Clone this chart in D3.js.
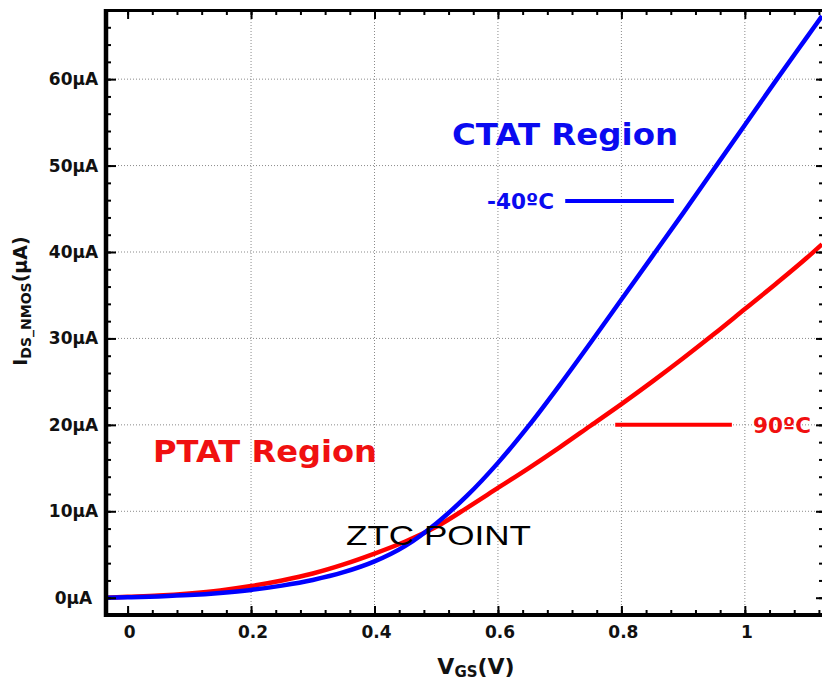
<!DOCTYPE html>
<html>
<head>
<meta charset="utf-8">
<script src="https://cdn.jsdelivr.net/npm/d3@7"></script>
<style>
  body { margin: 0; background: #fff; }
  svg { display: block; }
  .tick text { font-family: "DejaVu Sans", sans-serif; font-weight: bold; fill: #111; }
</style>
</head>
<body>
<svg id="chart"></svg>
<script>
// V_GS sweep (V) and drain current (uA) for the two temperatures
var vgs = [-0.035, 0, 0.05, 0.1, 0.15, 0.2, 0.25, 0.3, 0.35, 0.4, 0.45, 0.5, 0.55,
           0.6, 0.65, 0.7, 0.75, 0.8, 0.85, 0.9, 0.95, 1.0, 1.05, 1.1, 1.125];
var idsCold = [0.0, 0.05, 0.15, 0.3, 0.55, 0.9, 1.4, 2.05, 2.95, 4.2, 6.0, 8.6, 11.8,
               15.6, 19.9, 24.6, 29.5, 34.5, 39.5, 44.5, 49.6, 54.7, 59.8, 64.8, 67.3];
var idsHot = [0.0, 0.1, 0.25, 0.5, 0.85, 1.35, 2.0, 2.8, 3.85, 5.1, 6.5, 8.2, 10.4,
              12.7, 15.0, 17.4, 19.9, 22.4, 25.0, 27.7, 30.5, 33.4, 36.3, 39.3, 40.9];

var xTicks = [0, 0.2, 0.4, 0.6, 0.8, 1];
var xTickLabels = ["0", "0.2", "0.4", "0.6", "0.8", "1"];
var yTicks = [0, 10, 20, 30, 40, 50, 60];
var yTickLabels = ["0µA", "10µA", "20µA", "30µA", "40µA", "50µA", "60µA"];

function init(){

    var width = 822,
        height = 681;

    var svg = d3.select('svg#chart')
      .attr('width', width)
      .attr('height', height);

    var x = d3.scaleLinear()
      .domain([-0.035, 1.125])
      .range([106, 822]);

    var y = d3.scaleLinear()
      .domain([-2, 68])
      .range([615, 10]);

    var xMinor = d3.range(-0.04, 1.13, 0.04).filter(function(d){ return d > -0.035; });
    var yMinor = d3.range(0, 68, 2);

    // grid
    var grid = svg.append('g')
      .attr('stroke', '#8a8a8a')
      .attr('stroke-width', 1)
      .attr('stroke-dasharray', '1,2');

    grid.selectAll('line.gx')
        .data(xTicks.filter(function(d){ return d > 0; }))
      .enter().append('line')
        .attr('class', 'gx')
        .attr('x1', function(d){ return x(d); })
        .attr('x2', function(d){ return x(d); })
        .attr('y1', y(68))
        .attr('y2', y(-2));

    grid.selectAll('line.gy')
        .data(yTicks.filter(function(d){ return d > 0; }))
      .enter().append('line')
        .attr('class', 'gy')
        .attr('x1', x(-0.035))
        .attr('x2', x(1.125))
        .attr('y1', function(d){ return y(d); })
        .attr('y2', function(d){ return y(d); });

    // curves
    svg.append('clipPath')
        .attr('id', 'clip')
      .append('rect')
        .attr('x', 106)
        .attr('y', 10)
        .attr('width', 716)
        .attr('height', 605);

    var line = d3.line()
      .x(function(d){ return x(d[0]); })
      .y(function(d){ return y(d[1]); })
      .curve(d3.curveMonotoneX);

    var curves = svg.append('g').attr('clip-path', 'url(#clip)');

    curves.append('path')
      .datum(d3.zip(vgs, idsHot))
      .attr('d', line)
      .attr('fill', 'none')
      .attr('stroke', '#ff0000')
      .attr('stroke-width', 4.5);

    curves.append('path')
      .datum(d3.zip(vgs, idsCold))
      .attr('d', line)
      .attr('fill', 'none')
      .attr('stroke', '#0000ff')
      .attr('stroke-width', 4.5);

    // axes with inward ticks
    function tickAxis(axis, values, size, transform){
        var g = svg.append('g')
          .attr('transform', transform)
          .call(axis.tickValues(values).tickSize(size).tickFormat(''));
        g.select('.domain').remove();
        g.selectAll('.tick line').attr('stroke', '#000').attr('stroke-width', 2);
        return g;
    }

    // bottom (ticks up)
    tickAxis(d3.axisTop(x), xMinor, 5, 'translate(0,615)');
    tickAxis(d3.axisTop(x), xTicks, 9, 'translate(0,615)');
    // top (ticks down)
    tickAxis(d3.axisBottom(x), xMinor, 5, 'translate(0,10)');
    tickAxis(d3.axisBottom(x), xTicks, 9, 'translate(0,10)');
    // left (ticks right)
    tickAxis(d3.axisRight(y), yMinor, 5, 'translate(106,0)');
    tickAxis(d3.axisRight(y), yTicks, 10, 'translate(106,0)');
    // right (ticks left)
    tickAxis(d3.axisLeft(y), yMinor, 3, 'translate(822,0)');
    tickAxis(d3.axisLeft(y), yTicks, 6, 'translate(822,0)');

    // frame
    svg.append('line')
      .attr('x1', 104).attr('x2', 822)
      .attr('y1', 10.5).attr('y2', 10.5)
      .attr('stroke', '#000').attr('stroke-width', 3);
    svg.append('line')
      .attr('x1', 104).attr('x2', 822)
      .attr('y1', 615).attr('y2', 615)
      .attr('stroke', '#000').attr('stroke-width', 4);
    svg.append('line')
      .attr('x1', 106).attr('x2', 106)
      .attr('y1', 9).attr('y2', 617)
      .attr('stroke', '#000').attr('stroke-width', 4.5);

    // tick labels
    var xLab = svg.append('g')
      .attr('transform', 'translate(0,615)')
      .call(d3.axisBottom(x).tickValues(xTicks).tickSize(0).tickPadding(11)
        .tickFormat(function(d, i){ return xTickLabels[i]; }));
    xLab.select('.domain').remove();
    xLab.selectAll('text').attr('font-size', 17).attr('dx', 1.5);

    var yLab = svg.append('g')
      .attr('transform', 'translate(106,0)')
      .call(d3.axisLeft(y).tickValues(yTicks).tickSize(0)
        .tickFormat(function(d, i){ return yTickLabels[i]; }));
    yLab.select('.domain').remove();
    yLab.selectAll('text')
      .attr('font-size', 17)
      .attr('x', -32.5)
      .attr('text-anchor', 'middle');

    // axis titles
    var xt = svg.append('text')
      .attr('x', 476)
      .attr('y', 674)
      .attr('text-anchor', 'middle')
      .style('font-family', '"DejaVu Sans", sans-serif')
      .style('font-weight', 'bold')
      .style('font-size', '22px')
      .attr('fill', '#111');
    xt.append('tspan').text('V');
    xt.append('tspan').attr('dy', 3).style('font-size', '15px').text('GS');
    xt.append('tspan').attr('dy', -3).text('(V)');

    var yt = svg.append('text')
      .attr('transform', 'translate(27,301) rotate(-90)')
      .attr('text-anchor', 'middle')
      .style('font-family', '"DejaVu Sans", sans-serif')
      .style('font-weight', 'bold')
      .style('font-size', '19px')
      .attr('fill', '#111');
    yt.append('tspan').text('I');
    yt.append('tspan').attr('dy', 4).style('font-size', '14px').text('DS_NMOS');
    yt.append('tspan').attr('dy', -4).text('(µA)');

    // annotations
    function label(txt, px, py, size, color, len, bold, family){
        return svg.append('text')
          .attr('x', px)
          .attr('y', py)
          .attr('textLength', len)
          .attr('lengthAdjust', 'spacingAndGlyphs')
          .style('font-family', family || '"DejaVu Sans", sans-serif')
          .style('font-weight', bold ? 'bold' : 'normal')
          .style('font-size', size + 'px')
          .attr('fill', color)
          .text(txt);
    }

    label('CTAT Region', 452, 145, 30, '#0a0af0', 226, true);
    label('PTAT Region', 153, 462, 30, '#f01010', 224, true);
    label('-40ºC', 487, 209, 21, '#0a0af0', 67, true);
    label('90ºC', 753, 433, 21, '#f01010', 58, true);
    label('ZTC POINT', 346, 545, 28, '#000', 185, false, '"Liberation Sans", Arial, sans-serif');

    svg.append('line')
      .attr('x1', x(0.709)).attr('x2', x(0.885))
      .attr('y1', y(45.9)).attr('y2', y(45.9))
      .attr('stroke', '#0000ff').attr('stroke-width', 4);
    svg.append('line')
      .attr('x1', x(0.79)).attr('x2', x(0.979))
      .attr('y1', y(20)).attr('y2', y(20))
      .attr('stroke', '#ff0000').attr('stroke-width', 4);
}

init();
</script>
</body>
</html>
